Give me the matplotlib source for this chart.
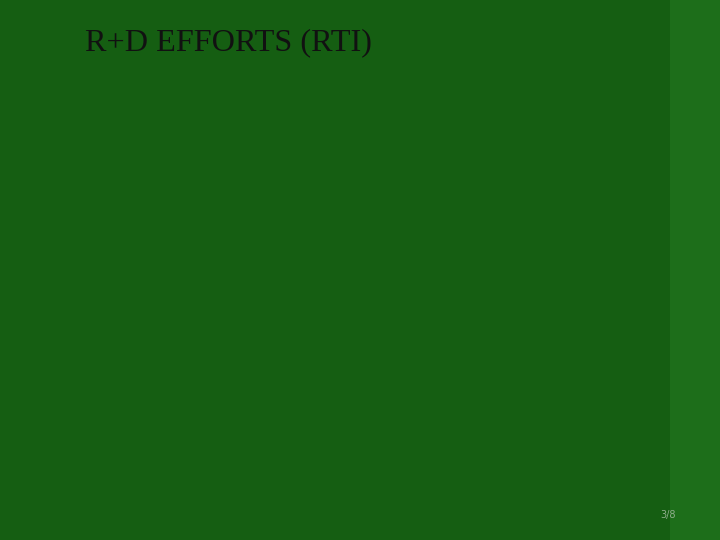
import matplotlib
matplotlib.use("Agg")
import matplotlib.pyplot as plt
from matplotlib.patches import Rectangle

title = "R+D EFFORTS (RTI)"
page_label = "3/8"

fig = plt.figure(figsize=(7.2, 5.4), dpi=100)
fig.patch.set_facecolor("#155e12")
fig.add_artist(Rectangle((670 / 720, 0), 50 / 720, 1, transform=fig.transFigure,
                         facecolor="#1d6e1a", edgecolor="none"))
fig.text(85 / 720, 1 - 50 / 540, title, family="Liberation Serif", fontsize=23.2,
         color="#111111", ha="left", va="baseline")
fig.text(668 / 720, 1 - 515 / 540, page_label, family="DejaVu Sans", fontsize=7,
         color="#8fae8c", ha="center", va="center")
fig.savefig("out.png", dpi=100, facecolor=fig.get_facecolor())
